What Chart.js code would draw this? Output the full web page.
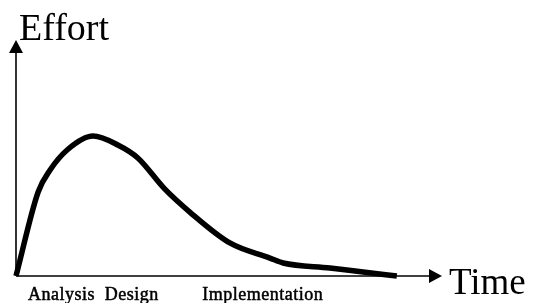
<!DOCTYPE html>
<html lang="en">
<head>
  <meta charset="UTF-8" />
  <title>Effort over Time</title>
  <script src="https://cdn.jsdelivr.net/npm/chart.js"></script>
  <style>
    html, body { margin: 0; padding: 0; background: #fff; }
    #wrap { width: 534px; height: 303px; position: relative; }
  </style>
</head>
<body>
  <div id="wrap"><canvas id="effortChart"></canvas></div>

  <script>
    // curve (time 0..100, effort 0..100)
    const timeValues = [0, 5.2, 8.0, 12.0, 18.1, 23.9, 28.6, 34.9, 40.8, 50.2, 59.6, 62.7, 73.7, 81.5, 89.4];
    const effortValues = [0, 35.6, 44.9, 53.4, 59.3, 55.5, 50.0, 36.9, 27.1, 14.0, 7.6, 5.5, 3.4, 1.7, 0];

    // phase names under the time axis and where they sit on it
    const phaseLabels = ["Analysis", "Design", "Implementation"];
    const phaseAt = [10.7, 27.2, 57.9];

    const yTitle = "Effort";
    const xTitle = "Time";

    const points = timeValues.map((t, i) => ({ x: t, y: effortValues[i] }));

    const arrowAxes = {
      id: "arrowAxes",
      afterDraw(chart) {
        const { ctx, chartArea, scales } = chart;
        const x0 = scales.x.getPixelForValue(0);
        const y0 = scales.y.getPixelForValue(0);
        const top = chartArea.top;
        const right = chartArea.right;

        ctx.save();
        ctx.strokeStyle = "#000";
        ctx.fillStyle = "#000";
        ctx.lineWidth = 1.6;

        // y axis
        ctx.beginPath();
        ctx.moveTo(x0, y0);
        ctx.lineTo(x0, top + 10);
        ctx.stroke();
        ctx.beginPath();
        ctx.moveTo(x0, top);
        ctx.lineTo(x0 - 7, top + 13);
        ctx.lineTo(x0 + 7, top + 13);
        ctx.closePath();
        ctx.fill();

        // x axis
        ctx.beginPath();
        ctx.moveTo(x0, y0);
        ctx.lineTo(right - 10, y0);
        ctx.stroke();
        ctx.beginPath();
        ctx.moveTo(right, y0);
        ctx.lineTo(right - 13, y0 - 7);
        ctx.lineTo(right - 13, y0 + 7);
        ctx.closePath();
        ctx.fill();

        // axis titles
        ctx.textBaseline = "alphabetic";
        ctx.textAlign = "left";
        ctx.font = "38px 'Liberation Serif', 'Times New Roman', serif";
        ctx.fillText(yTitle, x0 + 3, top);
        ctx.font = "37px 'Liberation Serif', 'Times New Roman', serif";
        ctx.fillText(xTitle, right + 7, y0 + 18);

        // phase labels
        ctx.font = "18px 'Liberation Serif', 'Times New Roman', serif";
        ctx.letterSpacing = "0.5px";
        ctx.textAlign = "center";
        ctx.lineWidth = 0.5;
        phaseLabels.forEach((name, i) => {
          const px = scales.x.getPixelForValue(phaseAt[i]);
          ctx.fillText(name, px, y0 + 24);
          ctx.strokeText(name, px, y0 + 24);
        });
        ctx.restore();
      }
    };

    new Chart(document.getElementById("effortChart"), {
      type: "line",
      data: {
        datasets: [{
          data: points,
          borderColor: "#000",
          borderWidth: 5.5,
          pointRadius: 0,
          cubicInterpolationMode: "monotone",
          fill: false
        }]
      },
      options: {
        responsive: true,
        maintainAspectRatio: false,
        animation: false,
        layout: { padding: { left: 16, top: 40, right: 92, bottom: 27 } },
        plugins: { legend: { display: false }, tooltip: { enabled: false } },
        scales: {
          x: { type: "linear", min: 0, max: 100, display: false },
          y: { min: 0, max: 100, display: false }
        },
        elements: { line: { borderCapStyle: "butt", borderJoinStyle: "round" } },
        clip: false
      },
      plugins: [arrowAxes]
    });
  </script>
</body>
</html>
